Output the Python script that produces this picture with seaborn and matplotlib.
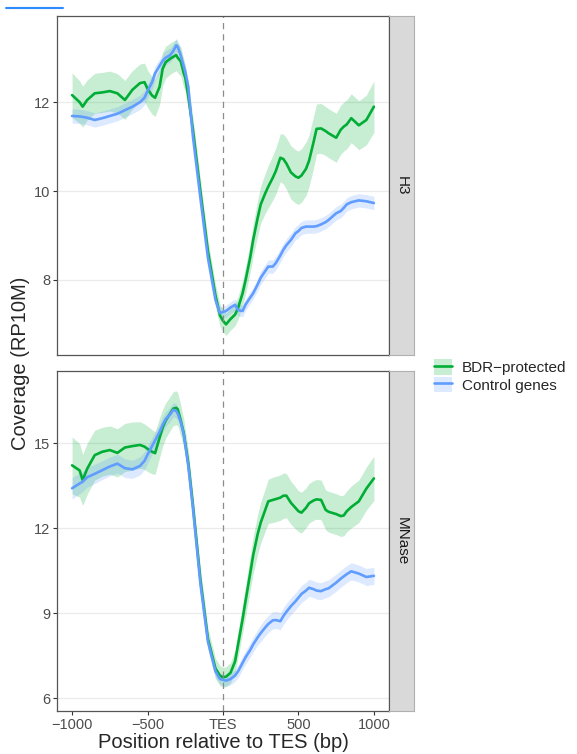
import numpy as np
import pandas as pd
import matplotlib
matplotlib.use("Agg")
import matplotlib.pyplot as plt
from matplotlib.lines import Line2D
from matplotlib.patches import Patch
import seaborn as sns

# position relative to TES (bp)
pos = [-1000, -950, -930, -900, -850, -800, -750, -700, -650, -600, -550, -520, -500, -470, -450,
       -420, -400, -380, -350, -330, -310,
       -300, -280, -260, -250, -230, -200, -150, -100, -50, -20, 0, 20, 50, 80, 100, 130, 150, 180, 200, 230,
       250, 280, 300, 330, 350, 380, 400, 420, 450, 480, 500, 520, 550, 570, 600, 620, 650, 680, 700, 750,
       780, 800, 820, 850, 900, 950, 1000]

# H3 panel
h3_bdr = [12.16, 12.0, 11.9, 12.05, 12.2, 12.22, 12.25, 12.2, 12.05, 12.28, 12.43, 12.45, 12.3, 12.15, 12.1,
          12.35, 12.75, 12.9, 12.98, 13.02, 13.06,
          13.0, 12.92, 12.65, 12.55, 12.13, 11.4, 10.0, 8.65, 7.65, 7.2, 7.08, 7.0, 7.12, 7.22, 7.37, 7.7, 8.0,
          8.5, 8.9, 9.4,
          9.7, 9.95, 10.1, 10.3, 10.45, 10.75, 10.72, 10.62, 10.42, 10.33, 10.3, 10.35, 10.5, 10.68, 11.1, 11.4,
          11.41, 11.35, 11.3, 11.2, 11.38, 11.45, 11.5, 11.64, 11.48, 11.6, 11.9]
h3_bdr_se = [0.5, 0.48, 0.46, 0.45, 0.45, 0.45, 0.45, 0.44, 0.44, 0.43, 0.43, 0.43, 0.42, 0.42, 0.42,
             0.4, 0.38, 0.36, 0.35, 0.35, 0.35,
             0.34, 0.33, 0.32, 0.3, 0.3, 0.28, 0.26, 0.25, 0.25, 0.25, 0.25, 0.25, 0.25, 0.25, 0.26, 0.28, 0.3,
             0.33, 0.36, 0.4,
             0.42, 0.45, 0.48, 0.5, 0.52, 0.54, 0.56, 0.58, 0.6, 0.6, 0.6, 0.6, 0.6, 0.58, 0.58, 0.56,
             0.56, 0.55, 0.55, 0.55, 0.55, 0.55, 0.55, 0.55, 0.55, 0.56, 0.58]
h3_ctrl = [11.69, 11.68, 11.67, 11.65, 11.6, 11.64, 11.69, 11.74, 11.82, 11.9, 12.0, 12.1, 12.25, 12.45, 12.65,
           12.82, 12.93, 13.0, 13.06, 13.15, 13.28,
           13.25, 13.05, 12.8, 12.68, 12.35, 11.25, 9.85, 8.5, 7.55, 7.25, 7.28, 7.3, 7.38, 7.44, 7.32, 7.3, 7.45,
           7.6, 7.7, 7.9,
           8.05, 8.2, 8.3, 8.3, 8.38, 8.55, 8.68, 8.78, 8.9, 9.05, 9.1, 9.17, 9.2, 9.2, 9.2, 9.21,
           9.25, 9.3, 9.35, 9.5, 9.55, 9.62, 9.7, 9.75, 9.79, 9.77, 9.73]
h3_ctrl_se = [0.16] * 21 + [0.13] * 20 + [0.15] * 27

# MNase panel
mn_bdr = [14.22, 14.04, 13.7, 14.1, 14.58, 14.7, 14.76, 14.66, 14.85, 14.9, 14.94, 14.88, 14.8, 14.7, 14.65,
          15.2, 15.55, 15.8, 16.05, 16.22, 16.25,
          16.2, 15.8, 15.35, 15.0, 14.3, 12.85, 10.2, 8.1, 7.05, 6.8, 6.74, 6.76, 6.9, 7.3, 7.9, 8.8, 9.45,
          10.4, 11.05, 11.8,
          12.2, 12.65, 12.95, 13.0, 13.03, 13.08, 13.15, 13.15, 12.9, 12.72, 12.6, 12.55, 12.72, 12.88, 12.98, 13.02,
          13.0, 12.65, 12.58, 12.5, 12.43, 12.45, 12.6, 12.75, 12.95, 13.4, 13.76]
mn_bdr_se = [1.0, 0.95, 0.9, 0.9, 0.88, 0.86, 0.85, 0.85, 0.85, 0.85, 0.82, 0.8, 0.8, 0.78, 0.75,
             0.7, 0.65, 0.62, 0.6, 0.6, 0.6,
             0.58, 0.55, 0.5, 0.48, 0.45, 0.42, 0.4, 0.38, 0.36, 0.35, 0.35, 0.35, 0.36, 0.4, 0.45, 0.5, 0.55,
             0.6, 0.65, 0.7,
             0.72, 0.75, 0.78, 0.8, 0.8, 0.8, 0.8, 0.78, 0.76, 0.74, 0.72, 0.72, 0.7, 0.7, 0.7, 0.7,
             0.7, 0.7, 0.72, 0.72, 0.72, 0.72, 0.72, 0.74, 0.75, 0.76, 0.78]
mn_ctrl = [13.41, 13.58, 13.64, 13.8, 13.92, 14.05, 14.18, 14.28, 14.12, 14.08, 14.2, 14.38, 14.6, 14.9, 15.1,
           15.4, 15.65, 15.85, 16.02, 16.18, 16.14,
           16.05, 15.75, 15.3, 14.95, 14.2, 12.75, 10.05, 8.0, 6.95, 6.68, 6.65, 6.62, 6.68, 6.8, 6.95, 7.25, 7.45,
           7.7, 7.9, 8.15,
           8.3, 8.5, 8.62, 8.75, 8.76, 8.72, 8.9, 9.05, 9.25, 9.42, 9.55, 9.68, 9.8, 9.9, 9.85, 9.8,
           9.78, 9.85, 9.88, 10.08, 10.22, 10.3, 10.38, 10.48, 10.4, 10.28, 10.32]
mn_ctrl_se = [0.38, 0.36, 0.35, 0.35, 0.34, 0.33, 0.33, 0.33, 0.33, 0.32, 0.32, 0.32, 0.31, 0.3, 0.3,
              0.28, 0.27, 0.26, 0.25, 0.25, 0.25,
              0.24, 0.23, 0.22, 0.22, 0.21, 0.2, 0.2, 0.2, 0.2, 0.2, 0.2, 0.2, 0.2, 0.21, 0.22, 0.23, 0.24,
              0.25, 0.26, 0.27] + [0.3] * 27

groups = ["BDR\u2212protected", "Control genes"]
cores = {"BDR\u2212protected": "#00AD35", "Control genes": "#619CFF"}

painel = {
    "H3": (h3_bdr, h3_bdr_se, h3_ctrl, h3_ctrl_se),
    "MNase": (mn_bdr, mn_bdr_se, mn_ctrl, mn_ctrl_se),
}

sns.set_theme(style="white")
plt.rcParams["font.family"] = ["Liberation Sans", "DejaVu Sans"]

fig = plt.figure(figsize=(5.77, 7.54), dpi=100)
W, H = 577, 754
caixas = {"H3": (16, 355, [8, 10, 12], (6.31, 13.94)),
          "MNase": (371, 711, [6, 9, 12, 15], (5.55, 17.55))}

for nome, (topo, base, yt, ylim) in caixas.items():
    ax = fig.add_axes([57 / W, 1 - base / H, 332 / W, (base - topo) / H])
    bdr, bdr_se, ctrl, ctrl_se = painel[nome]
    df = pd.DataFrame({
        "pos": pos * 2,
        "cov": bdr + ctrl,
        "se": bdr_se + ctrl_se,
        "grupo": [groups[0]] * len(pos) + [groups[1]] * len(pos),
    })
    for g in groups:
        d = df[df["grupo"] == g]
        ax.fill_between(d["pos"], d["cov"] - d["se"], d["cov"] + d["se"],
                        color=cores[g], alpha=0.22, lw=0)
    sns.lineplot(data=df, x="pos", y="cov", hue="grupo", palette=cores, hue_order=groups,
                 estimator=None, lw=1.9, legend=False, ax=ax)
    ax.axvline(0, color="#8C8C8C", lw=0.9, ls=(0, (5, 4)))
    ax.set_xlim(-1100, 1100)
    ax.set_ylim(*ylim)
    ax.set_yticks(yt)
    ax.set_yticklabels([str(v) for v in yt])
    ax.yaxis.grid(True, color="#EBEBEB", lw=0.9)
    ax.xaxis.grid(False)
    ax.set_axisbelow(True)
    ax.set_xlabel("")
    ax.set_ylabel("")
    for s in ax.spines.values():
        s.set_color("#555555")
        s.set_linewidth(0.9)
    ax.tick_params(axis="y", left=True, length=3, width=0.8, color="#333333",
                   labelsize=10.5, labelcolor="#4D4D4D", pad=2)
    if nome == "H3":
        ax.tick_params(axis="x", bottom=False, labelbottom=False)
    else:
        ax.set_xticks([-1000, -500, 0, 500, 1000])
        ax.set_xticklabels(["\u22121000", "\u2212500", "TES", "500", "1000"])
        ax.tick_params(axis="x", bottom=True, length=3, width=0.8, color="#333333",
                       labelsize=10.5, labelcolor="#4D4D4D", pad=2)

    # strip do facet
    st = fig.add_axes([389 / W, 1 - base / H, 25 / W, (base - topo) / H])
    st.set_facecolor("#D9D9D9")
    st.set_xticks([])
    st.set_yticks([])
    for s in st.spines.values():
        s.set_color("#B0B0B0")
        s.set_linewidth(0.8)
    st.spines["left"].set_color("#555555")
    st.text(0.5, 0.5, nome, rotation=270, ha="center", va="center",
            fontsize=11, color="#1A1A1A", transform=st.transAxes)

fig.text(0.035, 1 - 363 / H, "Coverage (RP10M)", rotation=90, ha="center", va="center", fontsize=14.5)
fig.text(223 / W, 1 - 742 / H, "Position relative to TES (bp)", ha="center", va="center", fontsize=14.5)

handles = [(Patch(facecolor=cores[g], alpha=0.22, lw=0), Line2D([], [], color=cores[g], lw=1.9))
           for g in groups]
fig.legend(handles, groups, loc="center left", bbox_to_anchor=(428 / W, 1 - 376 / H),
           frameon=False, fontsize=11, handlelength=1.2, handleheight=1.2,
           handletextpad=0.6, labelspacing=0.1, borderaxespad=0)

# risco azul no canto superior
fig.add_artist(Line2D([6 / W, 63 / W], [1 - 8 / H, 1 - 8 / H], color="#2E8BFF", lw=1.5,
                      transform=fig.transFigure))

fig.savefig("out.png", dpi=100)
